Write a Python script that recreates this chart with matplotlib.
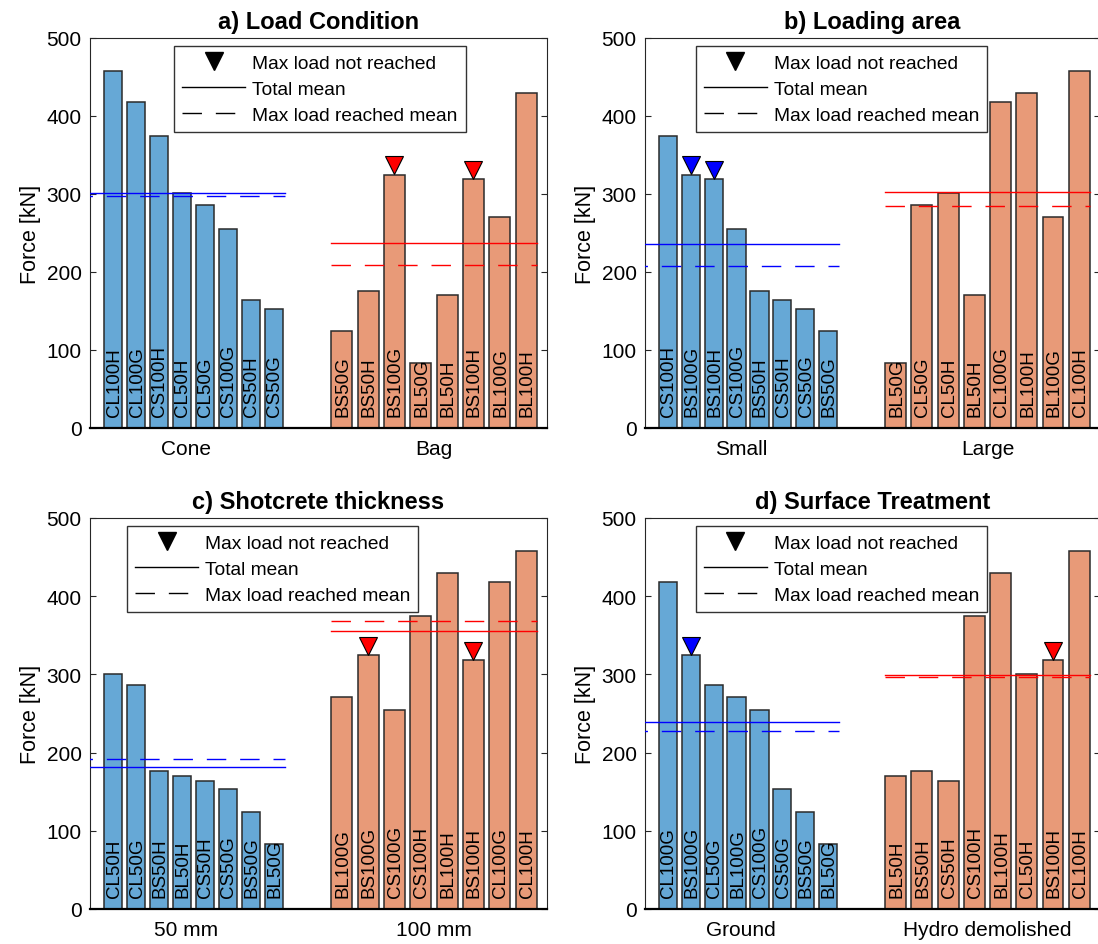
import matplotlib
matplotlib.use('Agg')
from matplotlib import pyplot as plt
from matplotlib.lines import Line2D
from matplotlib.transforms import offset_copy

plt.rcParams['font.family'] = ['Liberation Sans', 'DejaVu Sans']

# Peak force per specimen [kN]
specimens = ['CL100H', 'CL100G', 'CS100H', 'CL50H', 'CL50G', 'CS100G', 'CS50H', 'CS50G',
             'BS50G', 'BS50H', 'BS100G', 'BL50G', 'BL50H', 'BS100H', 'BL100G', 'BL100H']
force = [458, 418, 375, 301, 286, 255, 164, 153,
         124, 176, 325, 83, 170, 319, 271, 430]
# specimens where the max load was not reached
not_reached = ['BS100G', 'BS100H']

titles = ['a) Load Condition', 'b) Loading area',
          'c) Shotcrete thickness', 'd) Surface Treatment']
group_names = [['Cone', 'Bag'], ['Small', 'Large'],
               ['50 mm', '100 mm'], ['Ground', 'Hydro demolished']]
group_members = [
    [['CL100H', 'CL100G', 'CS100H', 'CL50H', 'CL50G', 'CS100G', 'CS50H', 'CS50G'],
     ['BS50G', 'BS50H', 'BS100G', 'BL50G', 'BL50H', 'BS100H', 'BL100G', 'BL100H']],
    [['CS100H', 'BS100G', 'BS100H', 'CS100G', 'BS50H', 'CS50H', 'CS50G', 'BS50G'],
     ['BL50G', 'CL50G', 'CL50H', 'BL50H', 'CL100G', 'BL100H', 'BL100G', 'CL100H']],
    [['CL50H', 'CL50G', 'BS50H', 'BL50H', 'CS50H', 'CS50G', 'BS50G', 'BL50G'],
     ['BL100G', 'BS100G', 'CS100G', 'CS100H', 'BL100H', 'BS100H', 'CL100G', 'CL100H']],
    [['CL100G', 'BS100G', 'CL50G', 'BL100G', 'CS100G', 'CS50G', 'BS50G', 'BL50G'],
     ['BL50H', 'BS50H', 'CS50H', 'CS100H', 'BL100H', 'CL50H', 'BS100H', 'CL100H']],
]
total_mean = [[301, 237], [236, 302], [182, 356], [239, 299]]
reached_mean = [[297, 209], [208, 285], [192, 368], [227, 297]]

bar_colors = ['#66a8d6', '#e89a78']
line_colors = ['#0000ff', '#ff0000']
group_pos = [1.0, 2.0]
pitch = [0.0954, 0.1095]
tick_pos = [0.97, 2.0]
legend_x = [0.184, 0.111, 0.081, 0.111]
dash = (0, (14, 10))

W, H = 1098, 945
# axes boxes in pixels: left, bottom, right, top
boxes = [(90, 429, 547, 39), (645, 429, 1100, 39),
         (90, 910, 547, 519), (645, 910, 1100, 519)]

fig = plt.figure(figsize=(W / 100, H / 100), dpi=100)
force_of = dict(zip(specimens, force))

for k, (l, b, r, t) in enumerate(boxes):
    ax = fig.add_axes([l / W, 1 - b / H, (r - l) / W, (b - t) / H])
    ax.set_xlim(0.57, 2.47)
    ax.set_ylim(0, 500)
    tri_shift = offset_copy(ax.transData, fig=fig, y=6.5, units='points')

    for g in range(2):
        names = group_members[k][g]
        vals = [force_of[n] for n in names]
        w = 0.8 * pitch[g]
        xs = [group_pos[g] + (i - 3.5) * pitch[g] for i in range(len(names))]
        ax.bar(xs, vals, w, color=bar_colors[g], edgecolor='#2b2b2b',
               linewidth=1.1, zorder=2)
        for x, n, v in zip(xs, names, vals):
            ax.text(x + 0.004, 15, n, rotation=90, ha='center', va='bottom',
                    fontsize=13.5, zorder=4)
            if n in not_reached:
                ax.plot(x, v, 'v', ms=13, mfc=line_colors[g], mec='k',
                        mew=0.8, transform=tri_shift, zorder=5, clip_on=False)
        x0 = 0.5 if g == 0 else xs[0] - w / 2
        x1 = xs[-1] + w / 2 + (0.01 if g == 0 else 0)
        ax.plot([x0, x1], [total_mean[k][g]] * 2, color=line_colors[g],
                lw=1.0, zorder=3)
        ax.plot([x0, x1], [reached_mean[k][g]] * 2, color=line_colors[g],
                lw=1.0, ls=dash, zorder=3)

    ax.set_xticks(tick_pos)
    ax.set_xticklabels(group_names[k])
    ax.set_yticks(range(0, 501, 100))
    ax.tick_params(axis='y', direction='in', length=4, right=True,
                   labelsize=15, pad=6, color='#262626')
    ax.tick_params(axis='x', length=0, labelsize=15, pad=8)
    for s in ['top', 'left', 'right']:
        ax.spines[s].set_color('#262626')
        ax.spines[s].set_linewidth(0.8)
    ax.spines['bottom'].set_color('k')
    ax.spines['bottom'].set_linewidth(1.6)
    ax.spines['bottom'].set_zorder(6)

    ax.set_ylabel('Force [kN]', fontsize=15.5, labelpad=4)
    ax.set_title(titles[k], fontsize=17, fontweight='bold', pad=7)

    handles = [Line2D([], [], marker='v', ls='none', color='k', ms=13),
               Line2D([], [], color='k', lw=1.0),
               Line2D([], [], color='k', lw=1.0, ls=dash)]
    leg = ax.legend(handles, ['Max load not reached', 'Total mean',
                              'Max load reached mean'],
                    loc='upper left', bbox_to_anchor=(legend_x[k], 0.979),
                    borderaxespad=0, fontsize=13.8, fancybox=False,
                    edgecolor='#333333', framealpha=1, handlelength=3.3,
                    handletextpad=0.35, labelspacing=0.45, borderpad=0.42)
    leg.get_frame().set_linewidth(1.0)
    leg.set_zorder(7)

fig.savefig('out.png', dpi=100)
